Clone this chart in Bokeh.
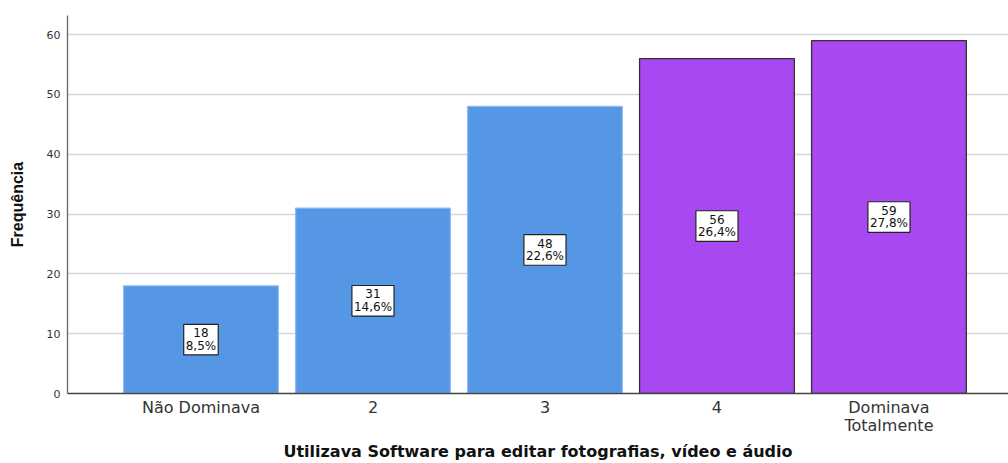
from bokeh.plotting import figure
from bokeh.models import ColumnDataSource, FixedTicker, Range1d
from bokeh.core.properties import value
from bokeh.embed import file_html
from bokeh.resources import INLINE

categories = ["Não Dominava", "2", "3", "4", "Dominava\nTotalmente"]
counts = [18, 31, 48, 56, 59]
percents = ["8,5%", "14,6%", "22,6%", "26,4%", "27,8%"]
y_ticks = [0, 10, 20, 30, 40, 50, 60]

xs = list(range(1, len(categories) + 1))
fills = ["#5596e5", "#5596e5", "#5596e5", "#a748f0", "#a748f0"]
lines = ["#8fbcf0", "#8fbcf0", "#8fbcf0", "#333333", "#333333"]

src = ColumnDataSource(dict(
    x=xs,
    top=counts,
    mid=[c / 2 for c in counts],
    lab=[f"{c}\n{p}" for c, p in zip(counts, percents)],
    fill=fills,
    line=lines,
))

p = figure(width=1008, height=463, output_backend="svg", toolbar_location=None,
           x_range=Range1d(0.224, 5.695), y_range=Range1d(0, 63.2),
           min_border_left=67, min_border_right=0, min_border_top=15, min_border_bottom=0)
p.outline_line_color = None
p.background_fill_color = "white"

p.vbar(x="x", top="top", width=0.9, source=src, fill_color="fill",
       line_color="line", line_width=1.3)

p.text(x="x", y="mid", text="lab", source=src,
       text_align="center", text_baseline="middle",
       text_font=value("DejaVu Sans"), text_font_size="12px",
       text_color="#111111", text_line_height=0.9,
       background_fill_color="white", border_line_color="#222222",
       border_line_width=1.2, padding=2)

p.xaxis.ticker = FixedTicker(ticks=xs)
p.xaxis.major_label_overrides = {i: c for i, c in zip(xs, categories)}
p.xaxis.major_label_text_font = "DejaVu Sans"
p.xaxis.major_label_text_font_size = "16px"
p.xaxis.major_label_text_color = "#333333"
p.xaxis.major_label_text_line_height = 0.95
p.xaxis.major_tick_line_color = None
p.xaxis.major_tick_out = 0
p.xaxis.major_tick_in = 0
p.xaxis.minor_tick_line_color = None
p.xaxis.minor_tick_out = 0
p.xaxis.axis_line_color = "#444444"
p.xaxis.axis_line_width = 1.3
p.xaxis.major_label_standoff = 4
p.xaxis.axis_label = "Utilizava Software para editar fotografias, vídeo e áudio"
p.xaxis.axis_label_text_font = "DejaVu Sans"
p.xaxis.axis_label_text_font_style = "bold"
p.xaxis.axis_label_text_font_size = "16px"
p.xaxis.axis_label_text_color = "#111111"
p.xaxis.axis_label_standoff = 4

p.yaxis.ticker = FixedTicker(ticks=y_ticks)
p.yaxis.major_label_text_font = "DejaVu Sans"
p.yaxis.major_label_text_font_size = "11px"
p.yaxis.major_label_text_color = "#333333"
p.yaxis.major_tick_line_color = None
p.yaxis.major_tick_out = 0
p.yaxis.major_tick_in = 0
p.yaxis.minor_tick_line_color = None
p.yaxis.minor_tick_out = 0
p.yaxis.axis_line_color = "#666666"
p.yaxis.axis_line_width = 1.3
p.yaxis.major_label_standoff = 7
p.yaxis.axis_label = "Frequência"
p.yaxis.axis_label_text_font = "Liberation Sans"
p.yaxis.axis_label_text_font_style = "bold"
p.yaxis.axis_label_text_font_size = "16px"
p.yaxis.axis_label_text_color = "#111111"
p.yaxis.axis_label_standoff = 18

p.xgrid.grid_line_color = None
p.ygrid.grid_line_color = "#d8d8d8"
p.ygrid.grid_line_width = 1.5

open("out.html", "w").write(file_html(p, INLINE))
